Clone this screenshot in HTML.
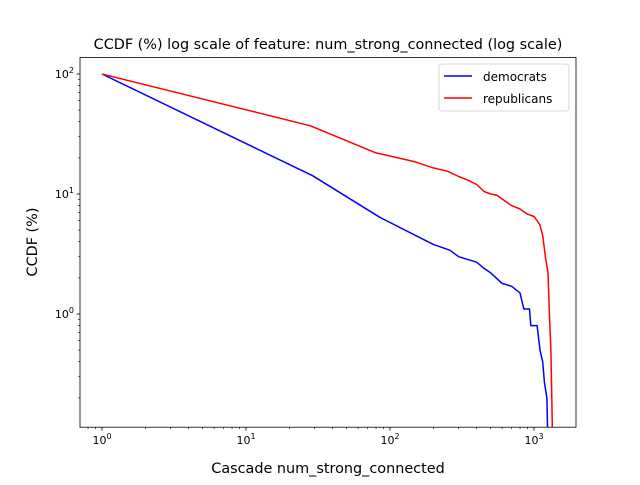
<!DOCTYPE html>
<html><head><meta charset="utf-8"><style>
body{margin:0;background:#fff;}
svg{font-family:"DejaVu Sans","Liberation Sans",sans-serif;}
</style></head><body>
<svg id="chart" width="640" height="480" xmlns="http://www.w3.org/2000/svg">
<text x="328" y="49" font-size="14.4" text-anchor="middle">CCDF (%) log scale of feature: num_strong_connected (log scale)</text>
<text x="328" y="473" font-size="14.4" text-anchor="middle">Cascade num_strong_connected</text>
<text transform="translate(37,242) rotate(-90)" font-size="14.4" text-anchor="middle">CCDF (%)</text>
<g id="ticks"></g>
<g id="lines"></g>
<rect x="80" y="57.6" width="496" height="369.6" fill="none" stroke="#000" stroke-width="0.8"/>
<g>
<rect x="439" y="64" width="130" height="47" rx="3" fill="#fff" fill-opacity="0.8" stroke="#ccc" stroke-width="0.8"/>
<line x1="444" y1="76" x2="472" y2="76" stroke="blue" stroke-width="1.5"/>
<text x="483" y="81" font-size="12">democrats</text>
<line x1="444" y1="98" x2="472" y2="98" stroke="red" stroke-width="1.5"/>
<text x="483" y="103" font-size="12">republicans</text>
</g>
</svg>
<script>
const demX=[1,29,85,200,260,300,400,450,500,600,700,800,850,930,950,1050,1100,1150,1180,1230,1240];
const demY=[100,14.2,6.4,3.8,3.4,3.0,2.7,2.4,2.2,1.8,1.7,1.5,1.1,1.1,0.8,0.8,0.5,0.4,0.27,0.2,0.11];
const repX=[1,28,80,150,200,250,300,350,400,450,500,550,650,700,800,900,1000,1050,1100,1150,1200,1250,1280,1310,1330,1340];
const repY=[100,37,22,18.5,16.5,15.5,14,13,12,10.5,10,9.8,8.5,8,7.5,6.8,6.5,6,5.5,4.5,3,2.2,1,0.5,0.2,0.11];
const xTickVals=[1,10,100,1000];
const xTickLabels=["0","1","2","3"];
const yTickVals=[1,10,100];
const yTickLabels=["0","1","2"];
const NS="http://www.w3.org/2000/svg";
const L=80,R=576,T=57.6,B=427.2;
function xs(v){return 102+144*Math.log10(v);}
function ys(v){return 314-120*Math.log10(v);}
function mk(tag,attrs,parent){const e=document.createElementNS(NS,tag);for(const k in attrs)e.setAttribute(k,attrs[k]);parent.appendChild(e);return e;}
const tg=document.getElementById('ticks');
xTickVals.forEach((v,i)=>{
  const x=xs(v);
  const l=mk('line',{x1:x,x2:x,y1:B,y2:B+3.5,stroke:'#000','stroke-width':0.8},tg);
  
  
  const t=mk('text',{x:x,y:B+17,'font-size':11,'text-anchor':'middle'},tg);
  
  
  t.textContent='10';
  const s=mk('tspan',{dy:-5,'font-size':8},t);s.textContent=xTickLabels[i];
});
for(let d=-1;d<=3;d++)for(let m=2;m<10;m++){const v=m*Math.pow(10,d);const x=xs(v);if(x<L||x>R)continue;
  const l=mk('line',{x1:x,x2:x,y1:B,y2:B+2,stroke:'#000','stroke-width':0.6},tg);
  
  }
yTickVals.forEach((v,i)=>{
  const y=ys(v);
  const l=mk('line',{x1:L-3.5,x2:L,y1:y,y2:y,stroke:'#000','stroke-width':0.8},tg);
  
  
  const t=mk('text',{x:L-6,y:y+4,'font-size':11,'text-anchor':'end'},tg);
  
  
  t.textContent='10';
  const s=mk('tspan',{dy:-5,'font-size':8},t);s.textContent=yTickLabels[i];
});
for(let d=-1;d<=2;d++)for(let m=2;m<10;m++){const v=m*Math.pow(10,d);const y=ys(v);if(y<T||y>B)continue;
  const l=mk('line',{x1:L-2,x2:L,y1:y,y2:y,stroke:'#000','stroke-width':0.6},tg);
  
  }
const lg=document.getElementById('lines');
function series(X,Y,color,name){
  const d=X.map((x,i)=>(i?'L':'M')+xs(x).toFixed(1)+','+Math.min(B,ys(Y[i])).toFixed(1)).join('');
  const p=mk('path',{d:d,fill:'none',stroke:color,'stroke-width':1.5,'stroke-linejoin':'round'},lg);
  
  
}
series(demX,demY,'blue','democrats-line');
series(repX,repY,'red','republicans-line');
</script>
</body></html>
